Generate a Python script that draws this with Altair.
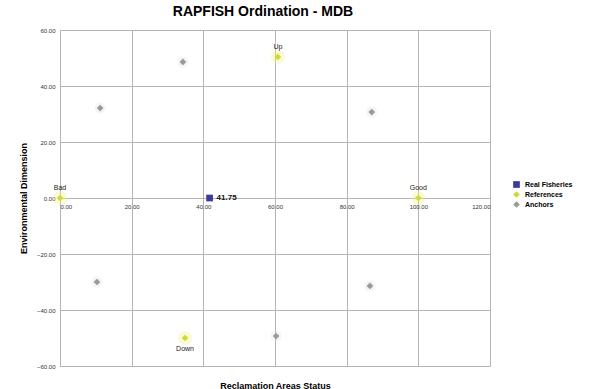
import altair as alt
import pandas as pd

# Ordination scores (x = status, y = environmental dimension)
fishery_names = ["MDB"]
fishery_x = [41.75]
fishery_y = [0.0]

reference_names = ["Bad", "Good", "Up", "Down"]
reference_x = [0.0, 100.0, 60.8, 34.9]
reference_y = [0.0, 0.0, 50.4, -50.0]

anchor_x = [11.2, 34.3, 87.0, 10.3, 86.5, 60.3]
anchor_y = [32.1, 48.6, 30.7, -30.0, -31.4, -49.3]

x_ticks = [0, 20, 40, 60, 80, 100, 120]
y_ticks = [-60, -40, -20, 0, 20, 40, 60]

groups = ["Real Fisheries", "References", "Anchors"]
group_colors = ["#3b3b9c", "#cfd93a", "#9a9a9a"]
group_shapes = ["square", "diamond", "diamond"]

rows = []
for n, x, y in zip(fishery_names, fishery_x, fishery_y):
    rows.append({"name": n, "x": x, "y": y, "group": "Real Fisheries", "label": f"{x:.2f}"})
for n, x, y in zip(reference_names, reference_x, reference_y):
    rows.append({"name": n, "x": x, "y": y, "group": "References", "label": n})
for x, y in zip(anchor_x, anchor_y):
    rows.append({"name": "", "x": x, "y": y, "group": "Anchors", "label": ""})
df = pd.DataFrame(rows)

FONT = "Liberation Sans"

xs = alt.X("x:Q", scale=alt.Scale(domain=[0, 120], nice=False),
           axis=alt.Axis(values=x_ticks, format=".2f", offset=-168, title="Reclamation Areas Status",
                         titleY=183, titleFontSize=9, titleFont=FONT, titleFontWeight="bold",
                         labelFontSize=6, labelFont=FONT, labelColor="#333", grid=True,
                         gridColor="#b5b5b5", ticks=False, domain=False, labelPadding=5))
ys = alt.Y("y:Q", scale=alt.Scale(domain=[-60, 60], nice=False),
           axis=alt.Axis(values=y_ticks, format=".2f", title="Environmental Dimension",
                         titleFontSize=9, titleFont=FONT, titleFontWeight="bold", titlePadding=8,
                         labelFontSize=6, labelFont=FONT, labelColor="#333", grid=True,
                         gridColor="#b5b5b5", ticks=False, domain=False, labelPadding=5))

base = alt.Chart(df)

# soft glow behind reference and anchor markers
ref_halo = base.transform_filter("datum.group == 'References'").mark_circle(
    size=200, opacity=0.35, color="#f1f48a"
).encode(x=xs, y=ys)
anchor_halo = base.transform_filter("datum.group == 'Anchors'").mark_circle(
    size=120, opacity=0.25, color="#d8d8d8"
).encode(x=xs, y=ys)

points = base.mark_point(filled=True, opacity=1).encode(
    x=xs, y=ys,
    color=alt.Color("group:N", scale=alt.Scale(domain=groups, range=group_colors),
                    legend=alt.Legend(title=None, orient="none", legendX=452, legendY=150,
                                      labelFontSize=7, labelFont=FONT, labelFontWeight="bold",
                                      symbolSize=25, rowPadding=2)),
    shape=alt.Shape("group:N", scale=alt.Scale(domain=groups, range=group_shapes)),
    size=alt.Size("group:N", scale=alt.Scale(domain=groups, range=[45, 45, 20]), legend=None),
)

ref_labels = base.transform_filter("datum.group == 'References' && datum.name != 'Down'").mark_text(
    dy=-10, fontSize=7, font=FONT, color="#222"
).encode(x=xs, y=ys, text="label:N")

down_label = base.transform_filter("datum.name == 'Down'").mark_text(
    dy=11, fontSize=7, font=FONT, color="#222"
).encode(x=xs, y=ys, text="label:N")

fishery_label = base.transform_filter("datum.group == 'Real Fisheries'").mark_text(
    dx=7, align="left", fontSize=8, font=FONT, fontWeight="bold", color="#111"
).encode(x=xs, y=ys, text="label:N")

chart = alt.layer(ref_halo, anchor_halo, points, ref_labels, down_label, fishery_label).properties(
    width=430, height=336,
    title=alt.TitleParams("RAPFISH Ordination - MDB", fontSize=14, font=FONT, fontWeight="bold",
                          anchor="middle", offset=8, dx=-12),
    autosize=alt.AutoSizeParams(type="none"),
    padding={"left": 60, "top": 30, "right": 121, "bottom": 23},
    background="white",
).configure_view(stroke=None)

chart.save("out.html", embed_options={"renderer": "svg", "actions": False})
